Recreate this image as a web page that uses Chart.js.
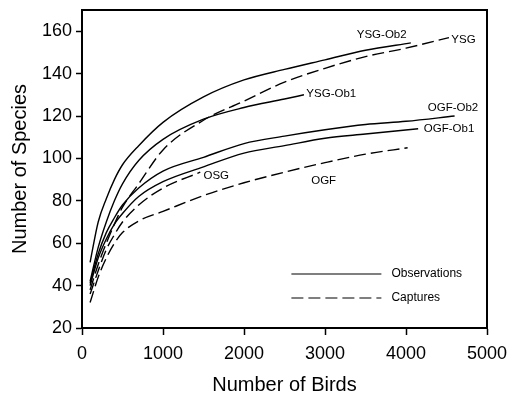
<!DOCTYPE html>
<html>
<head>
<meta charset="utf-8">
<script src="https://cdn.jsdelivr.net/npm/chart.js@4"></script>
<style>
  html, body { margin: 0; padding: 0; background: #fff; }
  #wrap { width: 509px; height: 395px; }
</style>
</head>
<body>
<div id="wrap"><canvas id="chart" width="509" height="395"></canvas></div>
<script>
// rarefaction curves
var birdsYsgOb2 = [100, 200, 300, 400, 500, 700, 1000, 1500, 2000, 2500, 3000, 3500, 4060];
var speciesYsgOb2 = [51, 70, 81, 90, 97, 106, 117, 129, 137, 142, 146.5, 151, 154.5];

var birdsYsgOb1 = [100, 200, 300, 400, 500, 700, 1000, 1500, 2000, 2500, 2740];
var speciesYsgOb1 = [42, 58, 70, 80, 88, 99, 109, 118.5, 124, 128, 130];

var birdsYsg = [100, 200, 300, 400, 500, 700, 1000, 1500, 2000, 2500, 3000, 3500, 4000, 4530];
var speciesYsg = [38, 50, 60, 69, 77, 88, 104, 118, 127, 136, 142.5, 148, 152, 157];

var birdsOgfOb2 = [100, 200, 300, 400, 500, 700, 1000, 1500, 2000, 2500, 3000, 3500, 4000, 4600];
var speciesOgfOb2 = [41, 55, 65, 72, 78, 86, 94, 100.5, 107, 110.5, 113.5, 116, 117.5, 120];

var birdsOgfOb1 = [100, 200, 300, 400, 500, 700, 1000, 1500, 2000, 2500, 3000, 3500, 4150];
var speciesOgfOb1 = [40, 53, 62, 69, 74, 82, 89, 96, 102.5, 106, 109.5, 111.5, 114];

var birdsOsg = [100, 200, 300, 400, 500, 700, 1000, 1460];
var speciesOsg = [36, 47, 57, 64, 70, 78, 86, 93.5];

var birdsOgf = [100, 200, 300, 400, 500, 700, 1000, 1500, 2000, 2500, 3000, 3500, 4020];
var speciesOgf = [32, 44, 53, 60, 65, 70.5, 75, 82.5, 88.5, 93.5, 98, 102, 105];

// curve labels (data coordinates)
var labelTexts = ['YSG-Ob2', 'YSG', 'YSG-Ob1', 'OGF-Ob2', 'OGF-Ob1', 'OSG', 'OGF'];
var labelBirds = [3700, 4560, 2770, 4580, 4220, 1500, 2830];
var labelSpecies = [158.5, 156, 130.5, 123.8, 113.9, 91.8, 89.5];
var labelAlign = ['center', 'left', 'left', 'center', 'left', 'left', 'left'];

var xTicks = [0, 1000, 2000, 3000, 4000, 5000];
var yTicks = [20, 40, 60, 80, 100, 120, 140, 160];

var FONT = '"Liberation Sans", Arial, Helvetica, sans-serif';
var DASH = [12, 5];

function pts(xs, ys) {
  var out = [];
  for (var i = 0; i < xs.length; i++) out.push({x: xs[i], y: ys[i]});
  return out;
}

function curve(xs, ys, dashed) {
  return {
    data: pts(xs, ys),
    borderColor: '#000',
    borderWidth: 1.4,
    borderDash: dashed ? DASH : [],
    pointRadius: 0,
    fill: false,
    showLine: true,
    cubicInterpolationMode: 'monotone'
  };
}

var extras = {
  id: 'extras',
  afterDatasetsDraw: function(chart) {
    var ctx = chart.ctx;
    var a = chart.chartArea;
    var xs = chart.scales.x, ys = chart.scales.y;
    ctx.save();
    // frame top / right
    ctx.strokeStyle = '#000';
    ctx.lineWidth = 2;
    ctx.beginPath();
    ctx.moveTo(a.left, a.top);
    ctx.lineTo(a.right, a.top);
    ctx.lineTo(a.right, a.bottom);
    ctx.stroke();

    // curve labels
    ctx.fillStyle = '#000';
    ctx.font = '11.5px ' + FONT;
    ctx.textBaseline = 'middle';
    for (var i = 0; i < labelTexts.length; i++) {
      ctx.textAlign = labelAlign[i];
      ctx.fillText(labelTexts[i], xs.getPixelForValue(labelBirds[i]), ys.getPixelForValue(labelSpecies[i]));
    }

    // legend inside plot
    var lx = xs.getPixelForValue(2585);
    var lw = 90;
    var y1 = a.bottom - 54, y2 = a.bottom - 30;
    ctx.lineWidth = 1.2;
    ctx.beginPath();
    ctx.moveTo(lx, y1); ctx.lineTo(lx + lw, y1);
    ctx.stroke();
    ctx.setLineDash(DASH);
    ctx.beginPath();
    ctx.moveTo(lx, y2); ctx.lineTo(lx + lw, y2);
    ctx.stroke();
    ctx.setLineDash([]);
    ctx.font = '12px ' + FONT;
    ctx.textAlign = 'left';
    ctx.fillText('Observations', lx + lw + 10, y1);
    ctx.fillText('Captures', lx + lw + 10, y2);
    ctx.restore();
  }
};

var ctx = document.getElementById('chart').getContext('2d');
var chart = new Chart(ctx, {
  type: 'scatter',
  data: {
    datasets: [
      curve(birdsYsgOb2, speciesYsgOb2, false),
      curve(birdsYsgOb1, speciesYsgOb1, false),
      curve(birdsYsg, speciesYsg, true),
      curve(birdsOgfOb2, speciesOgfOb2, false),
      curve(birdsOgfOb1, speciesOgfOb1, false),
      curve(birdsOsg, speciesOsg, true),
      curve(birdsOgf, speciesOgf, true)
    ]
  },
  options: {
    responsive: false,
    animation: false,
    layout: { padding: { left: 0, top: 10, right: 22, bottom: 0 } },
    plugins: { legend: { display: false }, tooltip: { enabled: false } },
    scales: {
      x: {
        type: 'linear',
        min: 0, max: 5000,
        afterFit: function(s) { s.height = 67; s.paddingLeft = 0; s.paddingRight = 0; },
        afterBuildTicks: function(s) { s.ticks = xTicks.map(function(v) { return {value: v}; }); },
        grid: { drawOnChartArea: false, drawTicks: true, tickLength: 7, tickColor: '#000', tickWidth: 1.5 },
        border: { display: true, color: '#000', width: 2 },
        ticks: { color: '#000', padding: 8, maxRotation: 0, font: { family: FONT, size: 18 },
                 callback: function(v) { return String(v); } },
        title: { display: true, text: 'Number of Birds', color: '#000', padding: 0, font: { family: FONT, size: 20, lineHeight: 1 } }
      },
      y: {
        min: 20, max: 170,
        afterFit: function(s) { s.width = 82; s.paddingTop = 0; s.paddingBottom = 0; },
        afterBuildTicks: function(s) { s.ticks = yTicks.map(function(v) { return {value: v}; }); },
        grid: { drawOnChartArea: false, drawTicks: true, tickLength: 6, tickColor: '#000', tickWidth: 1.5 },
        border: { display: true, color: '#000', width: 2 },
        ticks: { color: '#000', padding: 4, font: { family: FONT, size: 18 },
                 callback: function(v) { return String(v); } },
        title: { display: true, text: 'Number of Species', color: '#000', padding: { top: 8, bottom: 0 }, font: { family: FONT, size: 20, lineHeight: 1.2 } }
      }
    }
  },
  plugins: [extras]
});
</script>
</body>
</html>
